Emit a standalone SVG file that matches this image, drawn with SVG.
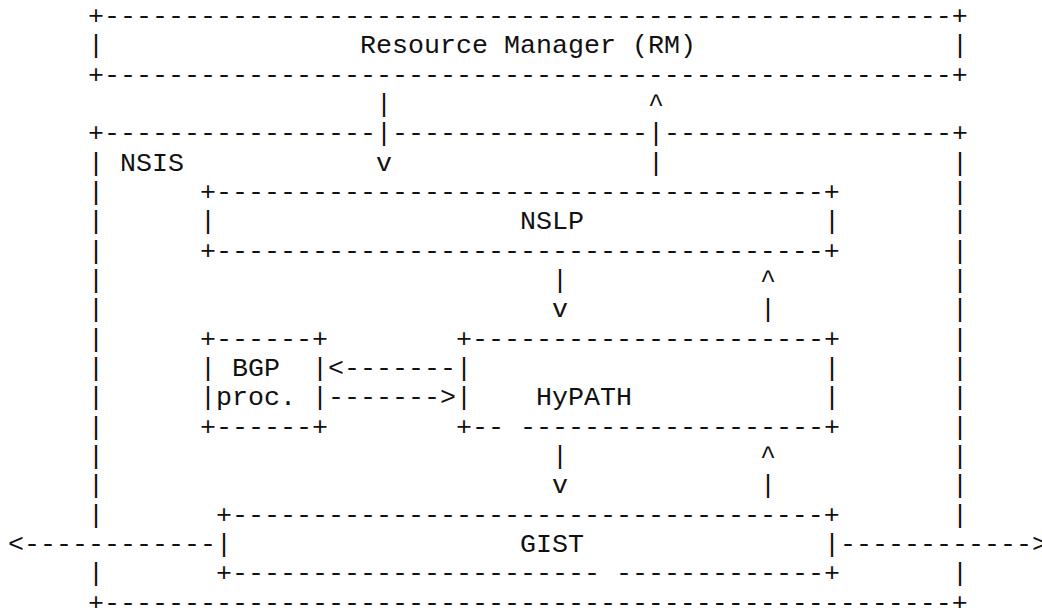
<svg xmlns="http://www.w3.org/2000/svg" width="1042" height="608" viewBox="0 0 1042 608">
<style>
text { font-family: "Liberation Mono", "Courier New", monospace; font-size: 26.667px; fill: #111; white-space: pre; }
</style>
<rect x="0" y="0" width="1042" height="608" fill="#fff"/>
<g id="node-rm">
<text x="88" y="24">+-----------------------------------------------------+</text>
<text x="88" y="53.33">|</text>
<text x="360" y="53.33">Resource Manager (RM)</text>
<text x="952" y="53.33">|</text>
<text x="88" y="82.67">+-----------------------------------------------------+</text>
</g>
<g id="node-nsis">
<text x="88" y="141.33">+-----------------</text>
<text x="392" y="141.33">----------------</text>
<text x="664" y="141.33">------------------+</text>
<text x="120" y="170.67">NSIS</text>
<text><tspan x="88" y="170.67">|</tspan><tspan x="88" y="200">|</tspan><tspan x="88" y="229.33">|</tspan><tspan x="88" y="258.67">|</tspan><tspan x="88" y="288">|</tspan><tspan x="88" y="317.33">|</tspan><tspan x="88" y="346.67">|</tspan><tspan x="88" y="376">|</tspan><tspan x="88" y="405.33">|</tspan><tspan x="88" y="434.67">|</tspan><tspan x="88" y="464">|</tspan><tspan x="88" y="493.33">|</tspan><tspan x="88" y="522.67">|</tspan><tspan x="88" y="581.33">|</tspan></text>
<text><tspan x="952" y="170.67">|</tspan><tspan x="952" y="200">|</tspan><tspan x="952" y="229.33">|</tspan><tspan x="952" y="258.67">|</tspan><tspan x="952" y="288">|</tspan><tspan x="952" y="317.33">|</tspan><tspan x="952" y="346.67">|</tspan><tspan x="952" y="376">|</tspan><tspan x="952" y="405.33">|</tspan><tspan x="952" y="434.67">|</tspan><tspan x="952" y="464">|</tspan><tspan x="952" y="493.33">|</tspan><tspan x="952" y="522.67">|</tspan><tspan x="952" y="581.33">|</tspan></text>
<text x="88" y="610.67">+-----------------------------------------------------+</text>
</g>
<g id="node-nslp">
<text x="200" y="200">+--------------------------------------+</text>
<text x="200" y="229.33">|</text>
<text x="520" y="229.33">NSLP</text>
<text x="824" y="229.33">|</text>
<text x="200" y="258.67">+--------------------------------------+</text>
</g>
<g id="node-bgp">
<text x="200" y="346.67">+------+</text>
<text x="200" y="376">|</text>
<text x="232" y="376">BGP</text>
<text x="312" y="376">|</text>
<text x="200" y="405.33">|</text>
<text x="216" y="405.33">proc.</text>
<text x="312" y="405.33">|</text>
<text x="200" y="434.67">+------+</text>
</g>
<g id="node-hypath">
<text x="456" y="346.67">+----------------------+</text>
<text x="456" y="376">|</text>
<text x="824" y="376">|</text>
<text x="456" y="405.33">|</text>
<text x="536" y="405.33">HyPATH</text>
<text x="824" y="405.33">|</text>
<text x="456" y="434.67">+--</text>
<text x="520" y="434.67">-------------------+</text>
</g>
<g id="node-gist">
<text x="216" y="522.67">+-------------------------------------+</text>
<text x="216" y="552">|</text>
<text x="520" y="552">GIST</text>
<text x="824" y="552">|</text>
<text x="216" y="581.33">+-----------------------</text>
<text x="616" y="581.33">-------------+</text>
</g>
<g id="connectors">
<text id="rm-to-nslp"><tspan x="376" y="112">|</tspan><tspan x="376" y="141.33">|</tspan><tspan x="376" y="170.67">v</tspan></text>
<text id="nslp-to-rm"><tspan x="648" y="112">^</tspan><tspan x="648" y="141.33">|</tspan><tspan x="648" y="170.67">|</tspan></text>
<text id="nslp-to-hypath"><tspan x="552" y="288">|</tspan><tspan x="552" y="317.33">v</tspan></text>
<text id="hypath-to-nslp"><tspan x="760" y="288">^</tspan><tspan x="760" y="317.33">|</tspan></text>
<text id="hypath-to-bgp" x="328" y="376">&lt;-------</text>
<text id="bgp-to-hypath" x="328" y="405.33">-------&gt;</text>
<text id="hypath-to-gist"><tspan x="552" y="464">|</tspan><tspan x="552" y="493.33">v</tspan></text>
<text id="gist-to-hypath"><tspan x="760" y="464">^</tspan><tspan x="760" y="493.33">|</tspan></text>
<text id="gist-left" x="8" y="552">&lt;------------</text>
<text id="gist-right" x="840" y="552">------------&gt;</text>
</g>
</svg>
